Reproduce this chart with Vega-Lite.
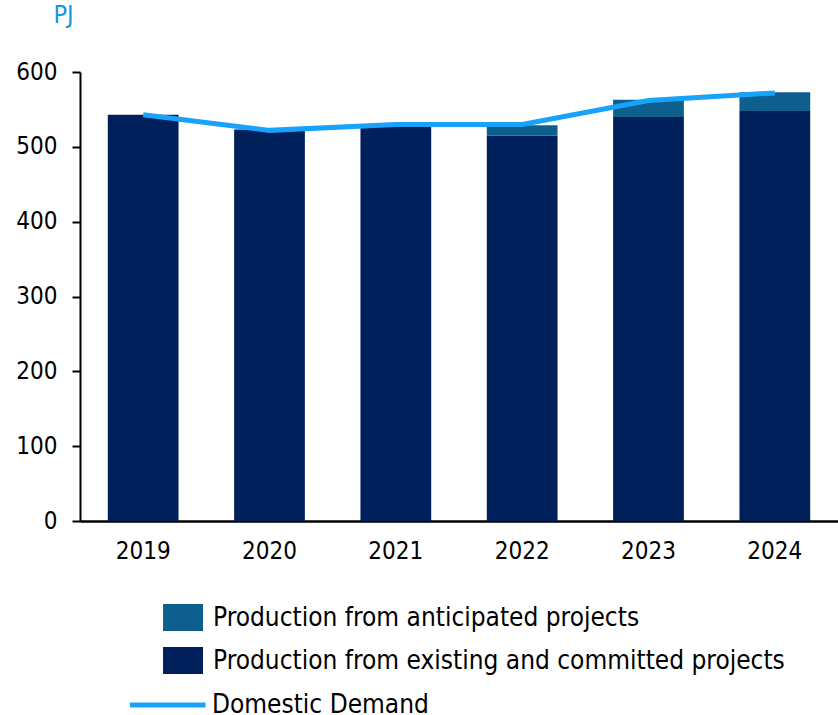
{
  "$schema": "https://vega.github.io/schema/vega-lite/v6.json",
  "width": 758,
  "height": 449,
  "autosize": "none",
  "padding": {"left": 80, "top": 72, "right": 0, "bottom": 194},
  "background": "white",
  "config": {
    "font": "DejaVu Sans Condensed, DejaVu Sans",
    "view": {"stroke": null},
    "axis": {"labelFont": "DejaVu Sans Condensed, DejaVu Sans", "labelColor": "#000000", "domainColor": "#000000", "tickColor": "#000000"},
    "legend": {"labelFont": "DejaVu Sans Condensed, DejaVu Sans", "labelColor": "#000000"}
  },
  "datasets": {
    "production": [
      {"year": "2019", "series": "Production from existing and committed projects", "value": 543},
      {"year": "2019", "series": "Production from anticipated projects", "value": 0},
      {"year": "2020", "series": "Production from existing and committed projects", "value": 523},
      {"year": "2020", "series": "Production from anticipated projects", "value": 0},
      {"year": "2021", "series": "Production from existing and committed projects", "value": 527},
      {"year": "2021", "series": "Production from anticipated projects", "value": 0},
      {"year": "2022", "series": "Production from existing and committed projects", "value": 515},
      {"year": "2022", "series": "Production from anticipated projects", "value": 14},
      {"year": "2023", "series": "Production from existing and committed projects", "value": 540},
      {"year": "2023", "series": "Production from anticipated projects", "value": 23},
      {"year": "2024", "series": "Production from existing and committed projects", "value": 548},
      {"year": "2024", "series": "Production from anticipated projects", "value": 25}
    ],
    "demand": [
      {"year": "2019", "series": "Domestic Demand", "value": 543},
      {"year": "2020", "series": "Domestic Demand", "value": 522},
      {"year": "2021", "series": "Domestic Demand", "value": 530},
      {"year": "2022", "series": "Domestic Demand", "value": 530},
      {"year": "2023", "series": "Domestic Demand", "value": 562},
      {"year": "2024", "series": "Domestic Demand", "value": 572}
    ]
  },
  "encoding": {
    "x": {
      "field": "year",
      "type": "nominal",
      "scale": {"paddingInner": 0.44, "paddingOuter": 0.22},
      "axis": {"title": null, "labelAngle": 0, "labelFontSize": 24, "labelPadding": 18, "ticks": false, "domainWidth": 2.5}
    },
    "y": {
      "field": "value",
      "type": "quantitative",
      "scale": {"domain": [0, 600], "nice": false},
      "axis": {
        "title": "PJ", "titleAngle": 0, "titleAlign": "center", "titleBaseline": "middle",
        "titleX": -17, "titleY": -58, "titleColor": "#1b95d7", "titleFontSize": 25, "titleFontWeight": "normal",
        "values": [0, 100, 200, 300, 400, 500, 600],
        "grid": false, "labelFontSize": 24, "tickSize": 8, "tickWidth": 2, "domainWidth": 2, "labelPadding": 15
      }
    }
  },
  "layer": [
    {
      "data": {"name": "production"},
      "mark": {"type": "bar"},
      "encoding": {
        "y": {"field": "value", "type": "quantitative", "stack": "zero"},
        "fill": {
          "field": "series",
          "type": "nominal",
          "scale": {
            "domain": ["Production from anticipated projects", "Production from existing and committed projects"],
            "range": ["#0e5f8e", "#00205b"]
          },
          "legend": {
            "title": null, "orient": "none", "legendX": 96, "legendY": 532,
            "direction": "vertical", "padding": 0,
            "symbolType": "M-1.96,-1H1V1H-1.96Z", "symbolSize": 729, "symbolStrokeWidth": 0,
            "labelFontSize": 26, "labelOffset": 10, "rowPadding": 16, "labelLimit": 800
          }
        },
        "order": {"field": "series", "sort": "descending"}
      }
    },
    {
      "data": {"name": "demand"},
      "mark": {"type": "line", "strokeWidth": 5},
      "encoding": {
        "stroke": {
          "field": "series",
          "type": "nominal",
          "scale": {"domain": ["Domestic Demand"], "range": ["#17a3fb"]},
          "legend": {
            "title": null, "orient": "none", "legendX": 96, "legendY": 617,
            "direction": "vertical", "padding": 0,
            "symbolType": "M-4.6,0H1", "symbolSize": 729, "symbolStrokeWidth": 5,
            "labelFontSize": 26, "labelOffset": 4, "labelLimit": 800
          }
        }
      }
    }
  ]
}
